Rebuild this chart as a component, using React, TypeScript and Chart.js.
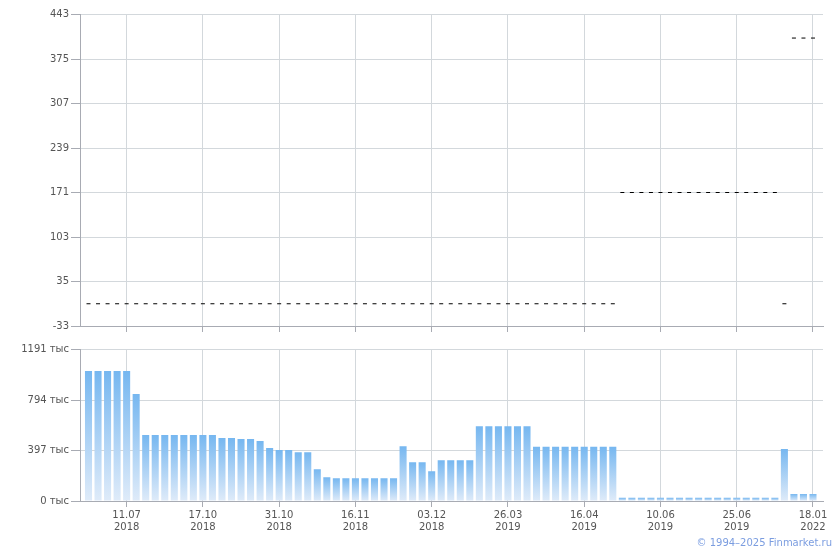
import React, { useEffect, useRef } from "react";
import { Chart, registerables } from "chart.js";

Chart.register(...registerables);

// 77 trading sessions; only the dates shown on the axis are known
const categories: string[] = [
  "", "", "", "", "11.07 2018", "", "", "", "", "", "", "", "17.10 2018", "", "", "", "", "", "", "",
  "31.10 2018", "", "", "", "", "", "", "", "16.11 2018", "", "", "", "", "", "", "", "03.12 2018", "", "", "",
  "", "", "", "", "26.03 2019", "", "", "", "", "", "", "", "16.04 2019", "", "", "", "", "", "", "",
  "10.06 2019", "", "", "", "", "", "", "", "25.06 2019", "", "", "", "", "", "", "", "18.01 2022",
];

// top panel: price
const priceValues: number[] = [
  1, 1, 1, 1, 1, 1, 1, 1, 1, 1, 1, 1, 1, 1, 1, 1, 1, 1, 1, 1,
  1, 1, 1, 1, 1, 1, 1, 1, 1, 1, 1, 1, 1, 1, 1, 1, 1, 1, 1, 1,
  1, 1, 1, 1, 1, 1, 1, 1, 1, 1, 1, 1, 1, 1, 1, 1,
  171, 171, 171, 171, 171, 171, 171, 171, 171, 171, 171, 171, 171, 171, 171, 171, 171,
  1, 407, 407, 407,
];

// bottom panel: volume, thousands
const volumeValues: number[] = [
  1021, 1021, 1021, 1021, 1021, 841, 518, 518, 518, 518, 518, 518, 518, 518, 495, 495, 487, 487, 471, 416,
  400, 400, 383, 383, 250, 187, 179, 179, 179, 179, 179, 179, 179, 430, 305, 305, 234, 321, 321, 321,
  321, 587, 587, 587, 587, 587, 587, 426, 426, 426, 426, 426, 426, 426, 426, 426,
  25, 25, 25, 25, 25, 25, 25, 25, 25, 25, 25, 25, 25, 25, 25, 25, 25,
  409, 56, 56, 56,
];

const priceTicks = { min: -33, max: 443, step: 68 };
const volumeTicks = { min: 0, max: 1191, step: 397 };
const volumeUnit = "тыс";

const FONT = "'DejaVu Sans', Verdana, sans-serif";
const GRID = "#d3d8dc";
const AXIS = "#a8abb3";
const TEXT = "#555555";
const X_MIN = -0.892;
const X_MAX = 77.05;

const tickIndices = categories.map((c, i) => (c ? i : -1)).filter((i) => i >= 0);

function xScale(showLabels: boolean, height: number) {
  return {
    type: "linear" as const,
    min: X_MIN,
    max: X_MAX,
    offset: false,
    afterBuildTicks: (scale: any) => {
      scale.ticks = tickIndices.map((v) => ({ value: v }));
    },
    afterFit: (scale: any) => {
      scale.height = height;
    },
    grid: { color: GRID, tickColor: AXIS, tickLength: 6, offset: false, lineWidth: 1 },
    border: { color: AXIS, width: 1 },
    ticks: {
      display: showLabels,
      autoSkip: false,
      maxRotation: 0,
      padding: 2,
      color: TEXT,
      font: { family: FONT, size: 10, lineHeight: 1.2 },
      callback: (v: any) => {
        const c = categories[Math.round(Number(v))];
        return c ? c.split(" ") : "";
      },
    },
  };
}

function yScale(t: { min: number; max: number; step: number }, fmt: (v: number) => string) {
  return {
    type: "linear" as const,
    min: t.min,
    max: t.max,
    afterBuildTicks: (scale: any) => {
      const arr: any[] = [];
      for (let v = t.min; v <= t.max + 1e-9; v += t.step) arr.push({ value: v });
      scale.ticks = arr;
    },
    afterFit: (scale: any) => {
      scale.width = 80;
    },
    grid: { color: GRID, tickColor: AXIS, tickLength: 9, lineWidth: 1 },
    border: { color: AXIS, width: 1 },
    ticks: {
      padding: 2,
      color: TEXT,
      font: { family: FONT, size: 10 },
      callback: (v: any) => fmt(Number(v)),
    },
  };
}

export default function App() {
  const topRef = useRef<HTMLCanvasElement>(null);
  const botRef = useRef<HTMLCanvasElement>(null);

  useEffect(() => {
    const priceData = priceValues.map((v, i) => ({ x: i, y: v }));
    const volumeData = volumeValues.map((v, i) => ({ x: i, y: v }));

    const top = new Chart(topRef.current!, {
      type: "line",
      data: {
        datasets: [
          {
            data: priceData,
            showLine: false,
            pointStyle: "line",
            pointRadius: 2,
            pointHoverRadius: 2,
            pointBorderWidth: 1,
            pointBorderColor: "#000",
            borderColor: "#000",
            backgroundColor: "#000",
          },
        ],
      },
      options: {
        responsive: false,
        animation: false,
        events: [],
        layout: { padding: { top: 14.5, right: 17, left: 0, bottom: 0 } },
        plugins: { legend: { display: false }, tooltip: { enabled: false } },
        scales: {
          x: xScale(false, 10),
          y: yScale(priceTicks, (v) => String(v)),
        },
      },
    } as any);

    const bot = new Chart(botRef.current!, {
      type: "bar",
      data: {
        datasets: [
          {
            data: volumeData,
            categoryPercentage: 1,
            barPercentage: 0.74,
            borderWidth: 0,
            backgroundColor: (ctx: any) => {
              const chart = ctx.chart;
              const area = chart.chartArea;
              if (!area || ctx.type !== "data") return "#78b8f0";
              const v = ctx.raw?.y ?? 0;
              const yTop = chart.scales.y.getPixelForValue(v);
              const yBase = chart.scales.y.getPixelForValue(0);
              if (!isFinite(yTop) || !isFinite(yBase) || yBase - yTop < 0.5) return "#78b8f0";
              const g = chart.ctx.createLinearGradient(0, yTop, 0, yBase);
              g.addColorStop(0, "#76b7f0");
              g.addColorStop(1, "#dfebf9");
              return g;
            },
          },
        ],
      },
      options: {
        responsive: false,
        animation: false,
        events: [],
        layout: { padding: { top: 13.5, right: 17, left: 0, bottom: 0 } },
        plugins: { legend: { display: false }, tooltip: { enabled: false } },
        scales: {
          x: xScale(true, 49),
          y: yScale(volumeTicks, (v) => `${v} ${volumeUnit}`),
        },
      },
    } as any);

    return () => {
      top.destroy();
      bot.destroy();
    };
  }, []);

  return (
    <div style={{ position: "fixed", left: 0, top: 0, width: 840, height: 550, background: "#fff", overflow: "hidden" }}>
      <canvas ref={topRef} width={840} height={336} style={{ position: "absolute", left: 0, top: 0, width: 840, height: 336 }} />
      <canvas ref={botRef} width={840} height={214} style={{ position: "absolute", left: 0, top: 336, width: 840, height: 214 }} />
      <div
        style={{
          position: "absolute",
          right: 8,
          top: 537,
          fontFamily: FONT,
          fontSize: 10,
          lineHeight: "12px",
          color: "#7b9de0",
          whiteSpace: "nowrap",
        }}
      >
        © 1994–2025 Finmarket.ru
      </div>
    </div>
  );
}
